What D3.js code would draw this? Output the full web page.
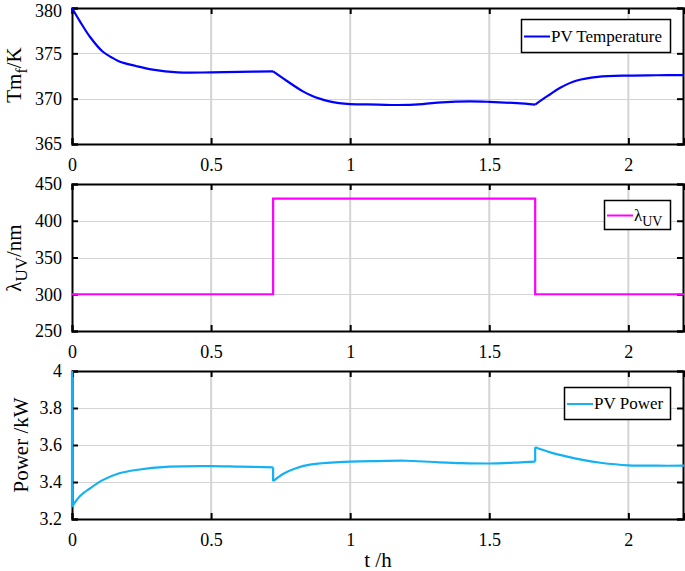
<!DOCTYPE html>
<html>
<head>
<meta charset="utf-8">
<script src="https://d3js.org/d3.v7.min.js"></script>
<style>
  body { margin: 0; background: #fff; }
  svg text { font-family: "Liberation Serif", "Times New Roman", serif; fill: #000; }
  .grid line { stroke: #d4d4d4; }
  .axis path, .axis line { stroke: #000; }
</style>
</head>
<body>
<div id="chart"></div>
<script>
// ---- data ----
// switching instants of the UV wavelength
var switchTimes = [0.723, 1.665];

var tempTime = [0, 0.029, 0.065, 0.11, 0.14, 0.17, 0.23, 0.29, 0.38, 0.5, 0.6, 0.723,
                0.77, 0.83, 0.86, 0.89, 0.925, 0.96, 1.0, 1.1, 1.17, 1.26, 1.33, 1.43, 1.5, 1.6, 1.665,
                1.71, 1.755, 1.815, 1.89, 2.0, 2.1, 2.2];
var tempValues = [380, 378.5, 376.8, 375.2, 374.6, 374.1, 373.6, 373.2, 372.9, 372.9, 372.95, 373.0,
                  372.0, 370.8, 370.35, 370.0, 369.7, 369.5, 369.4, 369.35, 369.3, 369.4, 369.6, 369.7, 369.65, 369.5, 369.35,
                  370.3, 371.2, 372.0, 372.4, 372.55, 372.58, 372.6];

var lambdaTime = [0, 0.723, 1.665, 2.2];
var lambdaValues = [300, 430, 300, 300];

var powerTime = [0, 0, 0.029, 0.065, 0.11, 0.17, 0.23, 0.35, 0.5, 0.6, 0.723, 0.723,
                 0.76, 0.8, 0.86, 0.93, 1.0, 1.1, 1.2, 1.3, 1.4, 1.5, 1.6, 1.665, 1.665,
                 1.72, 1.78, 1.84, 1.9, 2.0, 2.1, 2.2];
var powerValues = [4.0, 3.266, 3.324, 3.366, 3.41, 3.447, 3.465, 3.483, 3.486, 3.483, 3.479, 3.405,
                   3.445, 3.472, 3.495, 3.505, 3.51, 3.513, 3.515, 3.508, 3.502, 3.50, 3.505, 3.51, 3.588,
                   3.56, 3.537, 3.518, 3.504, 3.49, 3.488, 3.488];

var xTicks = [0, 0.5, 1, 1.5, 2];
var tempTicks = [365, 370, 375, 380];
var lambdaTicks = [250, 300, 350, 400, 450];
var powerTicks = [3.2, 3.4, 3.6, 3.8, 4];

var W = 685, H = 571;
var left = 72, right = 684;

var svg = d3.select("#chart").append("svg")
    .attr("width", W).attr("height", H);

var x = d3.scaleLinear().domain([0, 2.2]).range([left, right]);

// split a series into smooth pieces at jumps (repeated time) and at switching kinks
function pieces(time, values) {
  var segs = [[]], jumps = [];
  time.forEach(function(t, k) {
    var pt = [t, values[k]];
    var cur = segs[segs.length - 1];
    if (k > 0 && t === time[k - 1]) {
      jumps.push([cur[cur.length - 1], pt]);
      segs.push([pt]);
    } else if (switchTimes.indexOf(t) >= 0 && time[k + 1] !== t) {
      cur.push(pt);
      segs.push([pt]);
    } else {
      cur.push(pt);
    }
  });
  return { segs: segs.filter(function(s) { return s.length > 1; }), jumps: jumps };
}

var panels = [
  { top: 8, bottom: 144, domain: [365, 380], ticks: tempTicks, fmt: d3.format("d"),
    time: tempTime, values: tempValues, color: "#0000ff", step: false,
    legend: { x: 521, y: 19, w: 149, h: 33, label: "PV Temperature" } },
  { top: 184, bottom: 331, domain: [250, 450], ticks: lambdaTicks, fmt: d3.format("d"),
    time: lambdaTime, values: lambdaValues, color: "#ff00ff", step: true,
    legend: { x: 604, y: 200, w: 66, h: 29, label: "lambda" } },
  { top: 371, bottom: 519, domain: [3.2, 4], ticks: powerTicks, fmt: function(d) { return d === 4 ? "4" : d3.format(".1f")(d); },
    time: powerTime, values: powerValues, color: "#16b1f2", step: false,
    legend: { x: 564, y: 387, w: 106, h: 32, label: "PV Power" } }
];

panels.forEach(function(p, i) {
  var y = d3.scaleLinear().domain(p.domain).range([p.bottom, p.top]);
  var g = svg.append("g");

  // grid
  g.append("g").attr("class", "grid")
    .selectAll("line").data(p.ticks.slice(1, -1)).join("line")
    .attr("x1", left).attr("x2", right)
    .attr("y1", function(d) { return Math.round(y(d)) + 0.5; })
    .attr("y2", function(d) { return Math.round(y(d)) + 0.5; })
    .attr("stroke-width", 1.2);
  g.append("g").attr("class", "grid")
    .selectAll("line").data(xTicks.slice(1)).join("line")
    .attr("x1", function(d) { return x(d); }).attr("x2", function(d) { return x(d); })
    .attr("y1", p.top).attr("y2", p.bottom)
    .attr("stroke", "#c6c6c6").attr("stroke-width", 2);

  // axes (ticks inward)
  var gx = g.append("g").attr("class", "axis")
    .attr("transform", "translate(0," + p.bottom + ")")
    .call(d3.axisBottom(x).tickValues(xTicks).tickSize(-6).tickPadding(14).tickFormat(d3.format("~g")));
  g.append("g").attr("class", "axis")
    .attr("transform", "translate(0," + p.top + ")")
    .call(d3.axisTop(x).tickValues(xTicks).tickSize(-6).tickFormat(""));
  var gy = g.append("g").attr("class", "axis")
    .attr("transform", "translate(" + left + ",0)")
    .call(d3.axisLeft(y).tickValues(p.ticks).tickSize(-6).tickPadding(10).tickFormat(p.fmt));
  g.append("g").attr("class", "axis")
    .attr("transform", "translate(" + (right - 1) + ",0)")
    .call(d3.axisRight(y).tickValues(p.ticks).tickSize(-6).tickFormat(""));

  g.selectAll(".axis path").attr("stroke-width", 2);
  g.selectAll(".axis line").attr("stroke-width", 2);
  g.selectAll(".axis text").attr("font-size", 18).attr("font-family", "Liberation Serif");
  gx.selectAll("text").attr("dy", "0.71em");
  // keep the top label of the first panel inside the page
  if (i === 0) {
    gy.selectAll("text").filter(function(d) { return d === 380; }).attr("dy", "0.45em");
  }

  // series
  var series = g.append("g")
    .attr("fill", "none").attr("stroke", p.color).attr("stroke-width", 2.2);
  if (p.step) {
    series.append("path")
      .attr("d", d3.line()
        .x(function(d, k) { return x(p.time[k]); })
        .y(function(d) { return y(d); })
        .curve(d3.curveStepAfter)(p.values));
  } else {
    var pc = pieces(p.time, p.values);
    var smooth = d3.line()
      .x(function(d) { return x(d[0]); })
      .y(function(d) { return y(d[1]); })
      .curve(d3.curveCatmullRom.alpha(0.5));
    var straight = d3.line()
      .x(function(d) { return x(d[0]); })
      .y(function(d) { return y(d[1]); });
    series.selectAll("path.seg").data(pc.segs).join("path")
      .attr("class", "seg").attr("d", smooth);
    series.selectAll("path.jump").data(pc.jumps).join("path")
      .attr("class", "jump").attr("d", straight);
  }

  // legend
  var L = p.legend;
  var lg = g.append("g");
  lg.append("rect")
    .attr("x", L.x + 0.5).attr("y", L.y + 0.5).attr("width", L.w).attr("height", L.h)
    .attr("fill", "#fff").attr("stroke", "#000").attr("stroke-width", 1.5);
  var cy = L.y + L.h / 2 + 1;
  lg.append("line")
    .attr("x1", L.x + 3).attr("x2", L.x + 29).attr("y1", cy).attr("y2", cy)
    .attr("stroke", p.color).attr("stroke-width", 2);
  var lt = lg.append("text")
    .attr("x", L.x + 30).attr("y", cy + 5).attr("font-size", 17);
  if (L.label === "lambda") {
    lt.append("tspan").text("λ");
    lt.append("tspan").attr("font-size", 14).attr("dy", 5).text("UV");
  } else {
    lt.text(L.label);
  }
});

// y-axis titles
var t1 = svg.append("text").attr("transform", "translate(21,75) rotate(-90)")
  .attr("text-anchor", "middle").attr("font-size", 21);
t1.append("tspan").text("Tm");
t1.append("tspan").attr("font-size", 16).attr("dy", 6).text("f");
t1.append("tspan").attr("dy", -6).text("/K");

var t2 = svg.append("text").attr("transform", "translate(21,258) rotate(-90)")
  .attr("text-anchor", "middle").attr("font-size", 21);
t2.append("tspan").text("λ");
t2.append("tspan").attr("font-size", 17).attr("dy", 6).text("UV");
t2.append("tspan").attr("dy", -6).text("/nm");

svg.append("text").attr("transform", "translate(28,445) rotate(-90)")
  .attr("text-anchor", "middle").attr("font-size", 21).text("Power /kW");

svg.append("text").attr("x", (left + right) / 2).attr("y", 567)
  .attr("text-anchor", "middle").attr("font-size", 21).text("t /h");
</script>
</body>
</html>
